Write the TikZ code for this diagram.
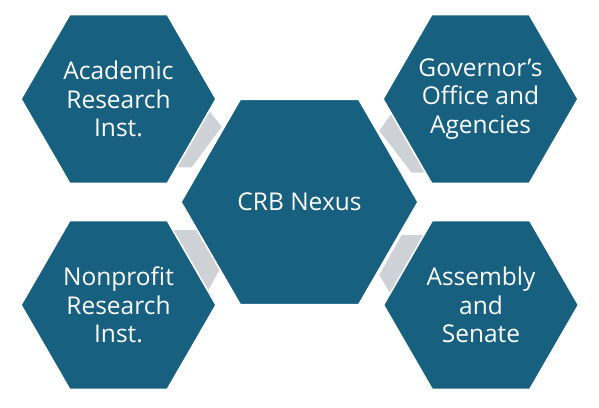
\documentclass[tikz,border=0pt]{standalone}
\usepackage{fontspec}
\setmainfont{Open Sans}
\usetikzlibrary{shapes.geometric}
\definecolor{hexblue}{RGB}{23,96,128}
\definecolor{linkgray}{RGB}{206,209,214}
\tikzset{
  hexnode/.style={regular polygon, regular polygon sides=6, fill=hexblue, draw=white,
    line width=1.5pt, inner sep=0pt, outer sep=0pt},
  corner/.style={hexnode, minimum size=195pt},
  hub/.style={hexnode, minimum size=237pt},
  hextext/.style={text=white, align=center, inner sep=0pt,
    font=\fontsize{24.5}{28.7}\selectfont},
  link/.style={fill=linkgray, draw=none}
}
\begin{document}
\begin{tikzpicture}[x=1pt,y=-1pt]
\useasboundingbox (0,0) rectangle (599,407);
% grey links (behind)
\fill[link] (200,99) -- (221.7,126.7) -- (191.7,167.3) -- (170,167.3) -- cycle;
\fill[link] (379.3,130.7) -- (399,103) -- (432,172.7) -- (411.7,172.7) -- cycle;
\fill[link] (165,230) -- (196.7,230) -- (219.3,270) -- (209.3,288.3) -- (199,307) -- cycle;
\fill[link] (401.7,235) -- (432,235) -- (400,309.5) -- (389.3,291.7) -- (379.3,275) -- cycle;
% hexagons
\node[hub] (hub) at (299.5,202) {};
\node[corner] (acad) at (118.5,99) {};
\node[corner] (gov) at (480.5,99) {};
\node[corner] (nonp) at (118.5,305) {};
\node[corner] (asm) at (481,305) {};
% labels
\node[hextext] (hubT) at (hub.center) {CRB Nexus};
\node[hextext] (acadT) at (acad.center) {Academic\\Research\\Inst.};
\node[hextext] (govT) at (gov.center) {Governor’s\\Office and\\Agencies};
\node[hextext] (nonpT) at (nonp.center) {Nonprofit\\Research\\Inst.};
\node[hextext] (asmT) at (asm.center) {Assembly\\and\\Senate};
\end{tikzpicture}
\end{document}
